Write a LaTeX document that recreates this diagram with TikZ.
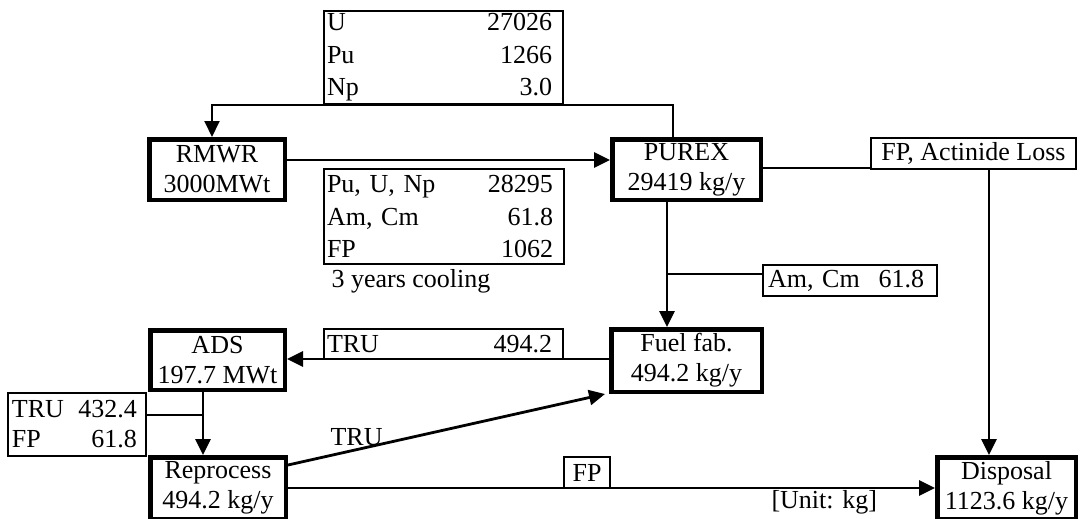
\documentclass[tikz,border=0pt]{standalone}
\usepackage{fontspec}
\setmainfont{Liberation Serif}
\usetikzlibrary{arrows.meta}
\newcommand{\padr}[1]{\hbox to #1{}}
\begin{document}
\begin{tikzpicture}[x=1pt,y=-1pt,
  every node/.style={font=\fontsize{26}{30}\selectfont},
  thickbox/.style={draw,line width=4.5pt,inner sep=0pt,align=center},
  thinbox/.style={draw,line width=2pt,inner sep=0pt},
  tip/.style={-{Triangle[length=16pt,width=15pt]}},
  arr/.style={line width=2.8pt,tip},
  thinline/.style={line width=1.5pt},
  tbl/.style={thinbox,align=left,font=\fontsize{26}{32.5}\selectfont},
]
\useasboundingbox (0,0) rectangle (1081,519);

% coordinates for connector rows / columns
\coordinate (topj) at (212,105);
\coordinate (y160) at (0,160);
\coordinate (y168) at (0,168);
\coordinate (x989) at (989,0);
\coordinate (x667) at (667,0);
\coordinate (j2) at (667,274);
\coordinate (y359) at (0,359);
\coordinate (x203) at (203,0);
\coordinate (y415) at (0,415);
\coordinate (y465) at (0,465);
\coordinate (y488) at (0,488);

% main boxes
\node[thickbox,minimum width=135.5pt,minimum height=60.5pt] (rmwr) at (217,169.5) {RMWR\\3000MWt};
\node[thickbox,minimum width=148.5pt,minimum height=60.5pt] (purex) at (686.5,169.5) {PUREX\\29419 kg/y};
\node[thickbox,minimum width=150.5pt,minimum height=62.5pt] (fuel) at (686.5,360.5) {Fuel fab.\\494.2 kg/y};
\node[thickbox,minimum width=134.5pt,minimum height=59.5pt] (ads) at (217.5,360) {ADS\\197.7 MWt};
\node[thickbox,minimum width=135.5pt,minimum height=61.5pt] (repro) at (218,488) {Reprocess\\494.2 kg/y};
\node[thickbox,minimum width=138.5pt,minimum height=61.5pt] (disp) at (1006.5,488) {Disposal\\1123.6 kg/y};

% data boxes
\node[tbl,text width=239pt,minimum height=93pt] (topbox) at (443.5,57.5)
  {\hspace*{3pt}U\hfill 27026\padr{11pt}\\
   \hspace*{3pt}Pu\hfill 1266\padr{11pt}\\
   \hspace*{3pt}Np\hfill 3.0\padr{11pt}};
\node[tbl,text width=240pt,minimum height=95pt] (midbox) at (444,216.5)
  {\hspace*{3pt}Pu, U, Np\hfill 28295\padr{11pt}\\
   \hspace*{3pt}Am, Cm\hfill 61.8\padr{11pt}\\
   \hspace*{3pt}FP\hfill 1062\padr{11pt}};
\node[anchor=base west] (cool) at (328,287) {3 years cooling};
\node[thinbox,minimum width=205pt,minimum height=31pt] (fpal) at (973.5,153.5) {FP, Actinide Loss};
\node[tbl,text width=174pt,minimum height=31pt] (amcm) at (850,280.5)
  {\hspace*{5pt}Am, Cm\hfill 61.8\padr{13pt}};
\node[tbl,text width=239pt,minimum height=30pt] (tru1) at (443.5,344)
  {\hspace*{3pt}TRU\hfill 494.2\padr{11pt}};
\node[tbl,text width=138pt,minimum height=63pt,font=\fontsize{26}{30}\selectfont] (tru2) at (77,424.5)
  {\hspace*{4pt}TRU\hfill 432.4\padr{9pt}\\
   \hspace*{4pt}FP\hfill 61.8\padr{9pt}};
\node[thinbox,minimum width=46pt,minimum height=31pt] (fp) at (587,472.5) {FP};
\node[anchor=base west] (trulbl) at (327,445) {TRU};
\node[anchor=base west] (unit) at (768,508) {[Unit: kg]};

% connectors
\draw[line width=2pt,tip] ([xshift=-13.5pt]purex.north) |- (topj) -- (topj |- rmwr.north);
\draw[arr] (rmwr.east |- y160) -- (purex.west |- y160);
\draw[thinline] (purex.east |- y168) -- (fpal.west |- y168);
\draw[arr] (fpal.south -| x989) -- (disp.north -| x989);
\draw[arr] (purex.south -| x667) -- (fuel.north -| x667);
\draw[thinline] (j2) -- (amcm.west |- j2);
\draw[arr] (fuel.west |- y359) -- (ads.east |- y359);
\draw[arr] (ads.south -| x203) -- (repro.north -| x203);
\draw[thinline] (tru2.east |- y415) -- (x203 |- y415);
\draw[arr] (repro.east |- y465) -- ([xshift=-4pt]fuel.south west);
\draw[arr] (repro.east |- y488) -- (disp.west |- y488);
\end{tikzpicture}
\end{document}
